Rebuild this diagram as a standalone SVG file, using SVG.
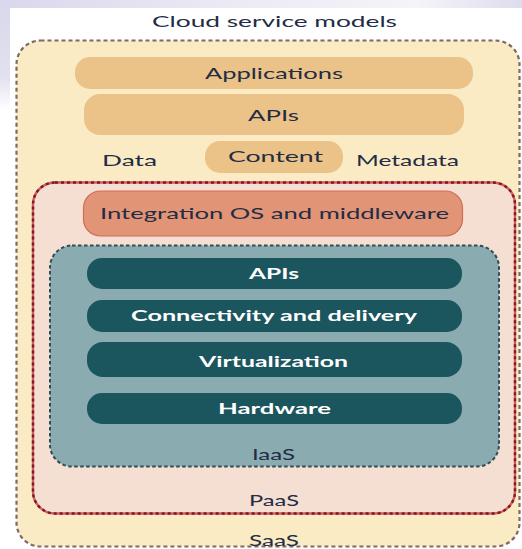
<svg xmlns="http://www.w3.org/2000/svg" width="522" height="549" viewBox="0 0 522 549">
  <style>
    .t { font-family: Lato, "Open Sans", "Liberation Sans", sans-serif; font-size: 15px; text-anchor: middle; }
    .dark { fill: #222c44; }
    .light { fill: #ffffff; font-weight: bold; }
    .tan { fill: #ebc288; }
    .teal { fill: #1b555e; }
  </style>
  <defs>
    <linearGradient id="bandTop" x1="0" y1="0" x2="1" y2="0">
      <stop offset="0" stop-color="#d9d8ec"/>
      <stop offset="0.45" stop-color="#eceaf5"/>
      <stop offset="0.8" stop-color="#f4f4f9"/>
      <stop offset="1" stop-color="#dedcee"/>
    </linearGradient>
    <linearGradient id="bandLeft" x1="0" y1="0" x2="0" y2="1">
      <stop offset="0" stop-color="#d9d8ec"/>
      <stop offset="0.7" stop-color="#e2e1ef"/>
      <stop offset="1" stop-color="#ffffff"/>
    </linearGradient>
  </defs>

  <!-- page background -->
  <rect x="0" y="0" width="522" height="549" fill="#ffffff"/>
  <rect x="0" y="0" width="522" height="8" fill="url(#bandTop)"/>
  <rect x="0" y="0" width="10" height="110" fill="url(#bandLeft)"/>

  <text class="t dark" x="274.5" y="27" textLength="245" lengthAdjust="spacingAndGlyphs">Cloud service models</text>

  <!-- SaaS layer -->
  <g id="saas">
    <rect x="16.5" y="40.5" width="503" height="506" rx="24" fill="#fbebc4" stroke="#7c6a64" stroke-width="2.2" stroke-dasharray="4 3"/>
    <text class="t dark" x="274" y="546" textLength="50" lengthAdjust="spacingAndGlyphs">SaaS</text>
  </g>

  <g id="applications">
    <rect class="tan" x="75" y="57" width="398" height="32" rx="15"/>
    <text class="t dark" x="274" y="79" textLength="138" lengthAdjust="spacingAndGlyphs">Applications</text>
  </g>

  <g id="saas-apis">
    <rect class="tan" x="84" y="94" width="380" height="41" rx="16"/>
    <text class="t dark" x="273.5" y="121" textLength="51" lengthAdjust="spacingAndGlyphs">APIs</text>
  </g>

  <g id="content">
    <rect class="tan" x="205" y="141" width="138" height="32" rx="15"/>
    <text class="t dark" x="275.5" y="162" textLength="95" lengthAdjust="spacingAndGlyphs">Content</text>
  </g>

  <g id="data">
    <text class="t dark" x="129.5" y="166" textLength="55" lengthAdjust="spacingAndGlyphs">Data</text>
  </g>

  <g id="metadata">
    <text class="t dark" x="407.5" y="166" textLength="103" lengthAdjust="spacingAndGlyphs">Metadata</text>
  </g>

  <!-- PaaS layer -->
  <g id="paas">
    <rect x="33" y="182.5" width="482" height="331" rx="22" fill="#f4dfd2" stroke="#e0594c" stroke-width="2.4"/>
    <rect x="33" y="182.5" width="482" height="331" rx="22" fill="none" stroke="#6e1f3a" stroke-width="2.4" stroke-dasharray="3 3"/>
    <text class="t dark" x="274" y="506" textLength="50" lengthAdjust="spacingAndGlyphs">PaaS</text>
  </g>

  <g id="integration">
    <rect x="83.5" y="191" width="379" height="45" rx="17" fill="#e29476" stroke="#d26d55" stroke-width="1.2"/>
    <text class="t dark" x="274.5" y="219" textLength="349" lengthAdjust="spacingAndGlyphs">Integration OS and middleware</text>
  </g>

  <!-- IaaS layer -->
  <g id="iaas">
    <rect x="50" y="245.5" width="449" height="221" rx="22" fill="#8aabb0" stroke="#2f4c58" stroke-width="2" stroke-dasharray="3.5 2.5"/>
    <text class="t dark" x="273.5" y="460" textLength="43" lengthAdjust="spacingAndGlyphs">IaaS</text>
  </g>

  <g id="iaas-apis">
    <rect class="teal" x="87" y="258" width="375" height="31" rx="15"/>
    <text class="t light" x="274" y="279" textLength="50" lengthAdjust="spacingAndGlyphs">APIs</text>
  </g>

  <g id="connectivity">
    <rect class="teal" x="87" y="300" width="375" height="32" rx="15"/>
    <text class="t light" x="274" y="321" textLength="286" lengthAdjust="spacingAndGlyphs">Connectivity and delivery</text>
  </g>

  <g id="virtualization">
    <rect class="teal" x="87" y="342" width="375" height="35" rx="16"/>
    <text class="t light" x="273.5" y="367" textLength="149" lengthAdjust="spacingAndGlyphs">Virtualization</text>
  </g>

  <g id="hardware">
    <rect class="teal" x="87" y="393" width="375" height="31" rx="15"/>
    <text class="t light" x="274.5" y="414" textLength="113" lengthAdjust="spacingAndGlyphs">Hardware</text>
  </g>

  <g id="connectors"/>
</svg>
